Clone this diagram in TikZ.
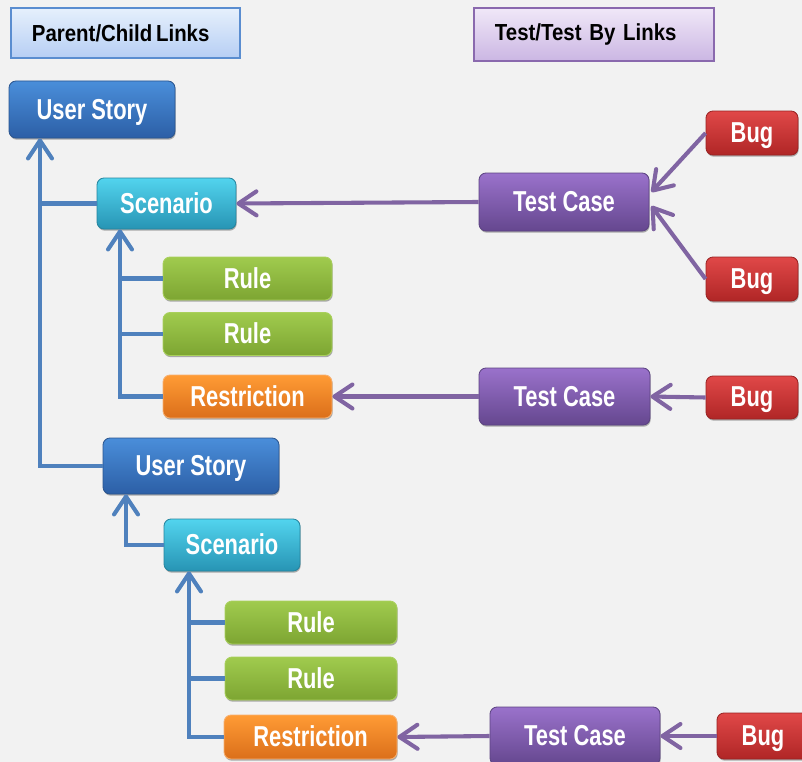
\documentclass[tikz,border=0pt]{standalone}
\usepackage{fontspec}
\newfontfamily\boxfont{Liberation Sans}[FakeStretch=0.76]
\newfontfamily\headfont{Liberation Sans}[FakeStretch=0.88]
\usetikzlibrary{arrows.meta,calc,shadows}
\definecolor{PageGray}{HTML}{F2F2F2}
\definecolor{TreeBlue}{HTML}{4F81BD}
\definecolor{LinkPurple}{HTML}{8064A2}
\definecolor{StoryTop}{HTML}{4A8EDA}
\definecolor{StoryBot}{HTML}{2C5FA6}
\definecolor{StoryEdge}{HTML}{2A558F}
\definecolor{SceneTop}{HTML}{52D4EE}
\definecolor{SceneBot}{HTML}{2794B4}
\definecolor{SceneEdge}{HTML}{25859F}
\definecolor{RuleTop}{HTML}{A0CB4E}
\definecolor{RuleBot}{HTML}{7DA532}
\definecolor{RuleEdge}{HTML}{A9D05C}
\definecolor{LimitTop}{HTML}{FF9B35}
\definecolor{LimitBot}{HTML}{DB6F1A}
\definecolor{LimitEdge}{HTML}{F7B070}
\definecolor{CaseTop}{HTML}{9A72CB}
\definecolor{CaseBot}{HTML}{65478F}
\definecolor{CaseEdge}{HTML}{5C4382}
\definecolor{BugTop}{HTML}{E04848}
\definecolor{BugBot}{HTML}{B02626}
\definecolor{BugEdge}{HTML}{9A2323}
\definecolor{HeadBlueTop}{HTML}{E6F0FC}
\definecolor{HeadBlueBot}{HTML}{B6CEF4}
\definecolor{HeadBlueEdge}{HTML}{5A8DD0}
\definecolor{HeadPurpleTop}{HTML}{F0E8F8}
\definecolor{HeadPurpleBot}{HTML}{CBB6E3}
\definecolor{HeadPurpleEdge}{HTML}{8A69AE}

\begin{document}
\begin{tikzpicture}[
  x=0.025cm,y=-0.025cm,
  wh/.style 2 args={minimum width=#1*0.025cm,minimum height=#2*0.025cm},
  item/.style={rounded corners=5pt,inner sep=0pt,line width=0.6pt,text=white,
    text depth=0.08em,font=\boxfont\bfseries\fontsize{20.5}{22}\selectfont,
    drop shadow={shadow xshift=0.5pt,shadow yshift=-1.2pt,opacity=0.3,fill=black}},
  story/.style={item,draw=StoryEdge,top color=StoryTop,bottom color=StoryBot},
  scene/.style={item,draw=SceneEdge,top color=SceneTop,bottom color=SceneBot},
  rulebox/.style={item,draw=RuleEdge,top color=RuleTop,bottom color=RuleBot},
  limit/.style={item,draw=LimitEdge,top color=LimitTop,bottom color=LimitBot},
  testcase/.style={item,draw=CaseEdge,top color=CaseTop,bottom color=CaseBot},
  bug/.style={item,draw=BugEdge,top color=BugTop,bottom color=BugBot},
  header/.style={line width=1.4pt,inner xsep=0.525cm,inner ysep=0pt,align=left,
    font=\headfont\bfseries\fontsize{16.5}{18}\selectfont,text=black},
  tree/.style={line width=2.9pt,draw=TreeBlue},
  link/.style={line width=2.9pt,draw=LinkPurple},
  up/.style={-{Straight Barb[length=4.5mm,width=6mm,round]}}
]
\useasboundingbox (0,0) rectangle (802,762);
\clip (0,0) rectangle (802,762);
\fill[PageGray] (0,0) rectangle (802,762);

% legends
\node[header,draw=HeadBlueEdge,top color=HeadBlueTop,bottom color=HeadBlueBot,
  wh={229}{50},text width=4.675cm] (hpc) at (125.5,33) {Parent/Child\,Links};
\node[header,draw=HeadPurpleEdge,top color=HeadPurpleTop,bottom color=HeadPurpleBot,
  wh={240}{53},text width=4.95cm] (htb) at (594,34.5) {Test/Test By Links};

% parent/child tree
\node[story,wh={166}{57}] (us1) at (92,109.5) {User Story};
\node[scene,wh={139}{51}] (sc1) at (166.5,203.5) {Scenario};
\node[rulebox,wh={169}{43}] (ru1) at (247.5,278.5) {Rule};
\node[rulebox,wh={169}{43}] (ru2) at (247.5,334) {Rule};
\node[limit,wh={169}{43}] (rs1) at (247.5,396.5) {Restriction};
\node[story,wh={176}{56}] (us2) at (191,466) {User Story};
\node[scene,wh={136}{52}] (sc2) at (232,545) {Scenario};
\node[rulebox,wh={172}{43}] (ru3) at (311,622.5) {Rule};
\node[rulebox,wh={172}{43}] (ru4) at (311,678.5) {Rule};
\node[limit,wh={173}{44}] (rs2) at (310.5,737) {Restriction};

% tests and bugs
\node[testcase,wh={170}{58}] (tc1) at (564,202) {Test Case};
\node[testcase,wh={171}{57}] (tc2) at (564.5,396.5) {Test Case};
\node[testcase,wh={170}{58}] (tc3) at (575,736) {Test Case};
\node[bug,wh={92}{44}] (bug1) at (752,133) {Bug};
\node[bug,wh={92}{44}] (bug2) at (752,279) {Bug};
\node[bug,wh={92}{43}] (bug3) at (752,397.5) {Bug};
\node[bug,wh={92}{46}] (bug4) at (763,736) {Bug};

% trunk positions
\coordinate (t1) at (40,0);
\coordinate (t2) at (120,0);
\coordinate (t3) at (126,0);
\coordinate (t4) at (189,0);

\draw[tree,up] (us2.west) -| (us1.south -| t1);
\draw[tree] (sc1.west) -- (sc1.west -| t1);
\draw[tree,up] (rs1.west) -| (sc1.south -| t2);
\draw[tree] (ru1.west) -- (ru1.west -| t2);
\draw[tree] (ru2.west) -- (ru2.west -| t2);
\draw[tree,up] (sc2.west) -| (us2.south -| t3);
\draw[tree,up] (rs2.west) -| (sc2.south -| t4);
\draw[tree] (ru3.west) -- (ru3.west -| t4);
\draw[tree] (ru4.west) -- (ru4.west -| t4);

\draw[link,up] (tc1.west) -- (sc1.east);
\draw[link,up] (bug1.west) -- ($(tc1.east)+(2,-10)$);
\draw[link,up] (bug2.west) -- ($(tc1.east)+(2,4)$);
\draw[link,up] (tc2.west) -- (rs1.east);
\draw[link,up] (bug3.west) -- (tc2.east);
\draw[link,up] (tc3.west) -- (rs2.east);
\draw[link,up] (bug4.west) -- (tc3.east);
\end{tikzpicture}
\end{document}
